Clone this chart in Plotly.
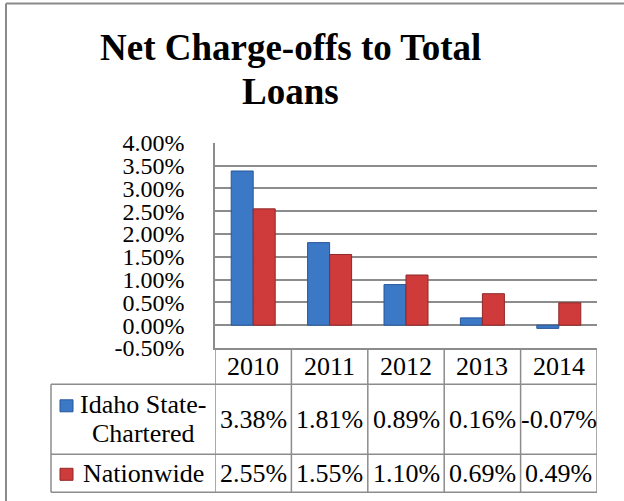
import plotly.graph_objects as go

# ---- data ----
years = ["2010", "2011", "2012", "2013", "2014"]
idaho = [3.38, 1.81, 0.89, 0.16, -0.07]
nationwide = [2.55, 1.55, 1.10, 0.69, 0.49]
series_labels = [["Idaho State-", "Chartered"], ["Nationwide"]]
title_lines = ["Net Charge-offs to Total", "Loans"]
y_ticks = [-0.5, 0.0, 0.5, 1.0, 1.5, 2.0, 2.5, 3.0, 3.5, 4.0]

# ---- styling / layout constants (pixels) ----
W, H = 624, 501
FONT = "Liberation Serif, Times New Roman, serif"
GRID = "#8c8c8c"
BLUE, BLUE_EDGE = "#3B78C6", "#28579A"
RED, RED_EDGE = "#CF3B3B", "#8E2828"

PLOT_L, PLOT_R = 215, 597
PLOT_T, PLOT_B = 142.7, 348
TABLE_L = 51
ROW_B = [384.3, 454.3, 492.3]  # header bottom, row1 bottom, row2 bottom
TFS = 26  # table font size


def px(x):
    return x / W


def py(y):
    return 1 - y / H


fig = go.Figure()
fig.add_trace(go.Bar(x=years, y=idaho, name="Idaho State-Chartered",
                     marker=dict(color=BLUE, line=dict(color=BLUE_EDGE, width=1))))
fig.add_trace(go.Bar(x=years, y=nationwide, name="Nationwide",
                     marker=dict(color=RED, line=dict(color=RED_EDGE, width=1))))

shapes = []
annotations = []

# outer chart border (left and top only visible)
shapes.append(dict(type="line", xref="paper", yref="paper", x0=px(6), x1=px(6),
                   y0=py(3.5), y1=0, line=dict(color="#8a8a8a", width=2)))
shapes.append(dict(type="line", xref="paper", yref="paper", x0=px(6), x1=1,
                   y0=py(3.5), y1=py(3.5), line=dict(color="#8a8a8a", width=2)))

# table vertical lines at category boundaries
for k in range(len(years) + 1):
    shapes.append(dict(type="line", xref="x", yref="paper", x0=k - 0.5, x1=k - 0.5,
                       y0=py(PLOT_B), y1=py(ROW_B[-1]), line=dict(color=GRID, width=1.5)))
# first-column left border
shapes.append(dict(type="line", xref="paper", yref="paper", x0=px(TABLE_L), x1=px(TABLE_L),
                   y0=py(ROW_B[0]), y1=py(ROW_B[-1]), line=dict(color=GRID, width=1.5)))
# horizontal lines
for yb in ROW_B:
    shapes.append(dict(type="line", xref="paper", yref="paper", x0=px(TABLE_L), x1=px(PLOT_R),
                       y0=py(yb), y1=py(yb), line=dict(color=GRID, width=1.5)))

# header row: years
for i, yr in enumerate(years):
    annotations.append(dict(x=i, xref="x", y=py((PLOT_B + ROW_B[0]) / 2), yref="paper",
                            text=yr, showarrow=False, font=dict(family=FONT, size=TFS, color="black"),
                            xanchor="center", yanchor="middle"))

rows = [(idaho, series_labels[0], BLUE, BLUE_EDGE, ROW_B[0], ROW_B[1]),
        (nationwide, series_labels[1], RED, RED_EDGE, ROW_B[1], ROW_B[2])]
LINE_SP = 29
for vals, lines, col, edge, top, bot in rows:
    yc = (top + bot) / 2
    for i, v in enumerate(vals):
        annotations.append(dict(x=i, xref="x", y=py(yc), yref="paper",
                                text=f"{v:.2f}%", showarrow=False,
                                font=dict(family=FONT, size=TFS, color="black"),
                                xanchor="center", yanchor="middle"))
    n = len(lines)
    first_c = yc - (n - 1) * LINE_SP / 2
    for j, ln in enumerate(lines):
        annotations.append(dict(x=px(143), xref="paper", y=py(first_c + j * LINE_SP), yref="paper",
                                text=ln, showarrow=False,
                                font=dict(family=FONT, size=TFS, color="black"),
                                xanchor="center", yanchor="middle"))
    # legend key, aligned with first text line
    shapes.append(dict(type="rect", xref="paper", yref="paper", x0=px(60), x1=px(73),
                       y0=py(first_c - 5), y1=py(first_c + 7), fillcolor=col,
                       line=dict(color=edge, width=1)))

# title (two lines)
for ln, yc in zip(title_lines, [48, 92]):
    annotations.append(dict(x=px(290), xref="paper", y=py(yc), yref="paper", text=ln,
                            showarrow=False,
                            font=dict(family=FONT, size=37, color="black", weight="bold"),
                            xanchor="center", yanchor="middle"))

fig.update_layout(
    width=W, height=H,
    margin=dict(l=0, r=0, t=0, b=0, autoexpand=False),
    paper_bgcolor="white", plot_bgcolor="white",
    showlegend=False,
    barmode="group", bargap=0.424, bargroupgap=0,
    shapes=shapes, annotations=annotations,
    xaxis=dict(type="category", domain=[px(PLOT_L), px(PLOT_R)], range=[-0.5, 4.5],
               showticklabels=False, showgrid=False, showline=True, linecolor=GRID,
               linewidth=1.5, ticks="", fixedrange=True, automargin=False),
    yaxis=dict(domain=[py(PLOT_B), py(PLOT_T)], range=[-0.5, 4.0],
               tickmode="array", tickvals=y_ticks, ticktext=[f"{t:.2f}%" for t in y_ticks],
               showgrid=True, gridcolor=GRID, gridwidth=1.5,
               zeroline=True, zerolinecolor=GRID, zerolinewidth=1.5,
               showline=True, linecolor=GRID, linewidth=1.5,
               ticks="", ticklabelstandoff=24, automargin=False,
               tickfont=dict(family=FONT, size=24, color="black"), fixedrange=True),
)

fig.write_html("out.html", config={"displayModeBar": False})
